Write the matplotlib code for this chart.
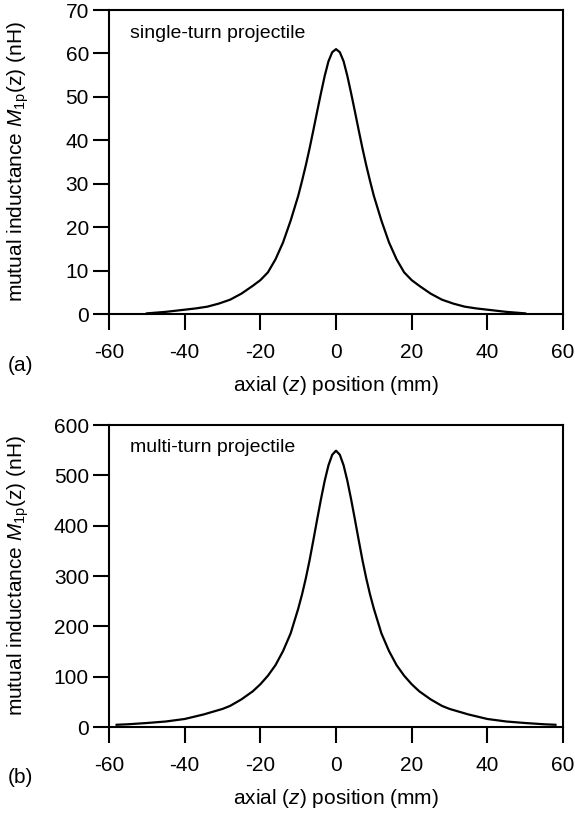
import matplotlib
matplotlib.use("Agg")
import matplotlib.pyplot as plt

plt.rcParams["font.family"] = "Liberation Sans"
plt.rcParams["mathtext.fontset"] = "custom"
plt.rcParams["mathtext.rm"] = "Liberation Sans"
plt.rcParams["mathtext.it"] = "Liberation Sans:italic"
plt.rcParams["axes.unicode_minus"] = False

# single-turn projectile, mutual inductance (nH) vs axial position (mm)
z_single = [-50, -45, -40, -37, -34, -31, -28, -25, -22, -20, -18, -16, -14, -12, -10,
            -9, -8, -7, -6, -5, -4, -3, -2, -1, 0,
            1, 2, 3, 4, 5, 6, 7, 8, 9, 10, 12, 14, 16, 18, 20, 22, 25, 28, 31, 34,
            37, 40, 45, 50]
m_single = [0.15, 0.5, 1.0, 1.3, 1.7, 2.4, 3.3, 4.7, 6.5, 7.8, 9.6, 12.6, 16.5, 21.5, 27.2,
            30.6, 34.2, 38.1, 42.3, 46.6, 50.8, 54.8, 58.2, 60.3, 61.0,
            60.3, 58.2, 54.8, 50.8, 46.6, 42.3, 38.1, 34.2, 30.6, 27.2, 21.5, 16.5, 12.6,
            9.6, 7.8, 6.5, 4.7, 3.3, 2.4, 1.7, 1.3, 1.0, 0.5, 0.15]

# multi-turn projectile
z_multi = [-58, -55, -50, -45, -40, -35, -30, -28, -25, -22, -20, -18, -16, -14, -12,
           -10, -9, -8, -7, -6, -5, -4, -3, -2, -1, 0,
           1, 2, 3, 4, 5, 6, 7, 8, 9, 10, 12, 14, 16, 18, 20, 22, 25, 28, 30, 35,
           40, 45, 50, 55, 58]
m_multi = [4.5, 5.5, 8, 11, 16, 25, 36, 42, 55, 71, 85, 102, 123, 151, 186,
           235, 263, 295, 331, 371, 412, 452, 489, 520, 541, 549,
           541, 520, 489, 452, 412, 371, 331, 295, 263, 235, 186, 151, 123, 102, 85,
           71, 55, 42, 36, 25, 16, 11, 8, 5.5, 4.5]

fig = plt.figure(figsize=(5.75, 8.18), dpi=100)
ax1 = fig.add_axes([0.1896, 0.6161, 0.7896, 0.3716])
ax2 = fig.add_axes([0.1896, 0.1112, 0.7896, 0.3692])

panels = [
    (ax1, z_single, m_single, 70, 10, "single-turn projectile", "(a)"),
    (ax2, z_multi, m_multi, 600, 100, "multi-turn projectile", "(b)"),
]

for ax, z, m, ymax, ystep, note, tag in panels:
    ax.plot(z, m, color="black", lw=1.6)
    ax.set_xlim(-60, 60)
    ax.set_ylim(0, ymax)
    ax.set_xticks(range(-60, 61, 20))
    ax.set_yticks(range(0, ymax + 1, ystep))
    for s in ax.spines.values():
        s.set_linewidth(1.5)
    ax.tick_params(direction="out", length=11.5, width=1.5, labelsize=15, pad=3)
    ax.tick_params(axis="x", pad=9)
    ax.set_xlabel(r"axial ($\mathit{z}$) position (mm)", fontsize=15, labelpad=9)
    ax.set_ylabel(r"mutual inductance $\mathit{M}_{\mathrm{1p}}$(z) (nH)", fontsize=15)
    ax.yaxis.set_label_coords(-0.172, 0.5)
    ax.text(0.046, 0.924, note, transform=ax.transAxes, fontsize=14, va="center")
    ax.text(-0.222, -0.168, tag, transform=ax.transAxes, fontsize=15, va="center")

fig.savefig("out.png", dpi=100)
